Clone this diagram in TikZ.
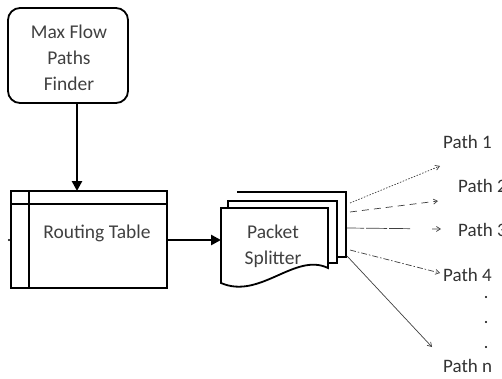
\documentclass[tikz,border=0pt]{standalone}
\usepackage{fontspec}
\setmainfont{Carlito}
\usetikzlibrary{arrows.meta}
\tikzset{
  boxline/.style={line width=1.8pt, draw=black},
  bigarrow/.style={line width=2.8pt, -{Triangle[length=10pt,width=10pt]}},
  pathline/.style={line width=0.7pt, draw=black!75, -{Straight Barb[length=4pt,width=5pt]}},
  lbl/.style={font=\fontsize{19.5}{26}\selectfont, text=black!75},
  plbl/.style={font=\fontsize{19}{20}\selectfont, anchor=west, inner sep=0pt, text=black!80},
}
\begin{document}
\begin{tikzpicture}[x=1pt,y=-1pt]
\useasboundingbox (0,0) rectangle (502,378);
\clip (0,0) rectangle (502,378);
% Max flow box
\draw[boxline, rounded corners=12pt] (8,8) rectangle (128,103);
\node[lbl, align=center] (mf) at (69,58) {Max Flow\\Paths\\Finder};
\coordinate (mfb) at (77,103);
% Routing table
\draw[boxline] (11,191) rectangle (167,288);
\draw[line width=1.3pt] (11,204) -- (167,204);
\draw[line width=1.3pt] (29,191) -- (29,288);
\fill (9,240) circle (1.2pt);
\node[lbl] (rt) at (97,233) {Routing Table};
\coordinate (rtt) at (77,191);
\coordinate (rtr) at (167,240);
% Packet splitter (multi-document)
\draw[boxline, fill=white] (237,192) -- (346,192) -- (346,257) -- (337,257);
\draw[boxline, fill=white] (228,210) -- (228,201) -- (337,201) -- (337,263) -- (328,263);
\draw[boxline, fill=white] (221,208) -- (328,208) -- (328,268)
   .. controls (295,252) and (260,300) .. (221,283) -- cycle;
\node[lbl, align=center] (ps) at (273,246) {Packet\\Splitter};
\coordinate (psl) at (221,240);
% arrows
\draw[bigarrow] (mfb) -- (rtt);
\draw[bigarrow] (rtr) -- (psl);
% path lines
\coordinate (s1) at (350,203);
\coordinate (s2) at (350,212);
\coordinate (s3) at (347,228);
\coordinate (s4) at (350,250);
\coordinate (s5) at (347,256);
\coordinate (e1) at (440,166);
\coordinate (e2) at (438,201);
\coordinate (e3) at (441,229);
\coordinate (e4) at (440,273);
\coordinate (e5) at (432,347);
\draw[pathline, dash pattern=on 1.5pt off 1.5pt] (s1) -- (e1);
\draw[pathline, dash pattern=on 7pt off 5pt] (s2) -- (e2);
\draw[pathline, dash pattern=on 17pt off 2pt on 21pt off 2pt on 21pt off 22pt] (s3) -- (e3);
\draw[pathline, dash pattern=on 6pt off 2pt on 1.5pt off 2pt] (s4) -- (e4);
\draw[pathline] (s5) -- (e5);
% labels
\node[plbl] (p1) at (443,142) {Path 1};
\node[plbl] (p2) at (458,186) {Path 2};
\node[plbl] (p3) at (458,230) {Path 3};
\node[plbl] (p4) at (443,275) {Path 4};
\node[plbl] (pn) at (443,366) {Path n};
\fill (486,297) circle (1.1pt);
\fill (486,322) circle (1.1pt);
\fill (486,347) circle (1.1pt);
\end{tikzpicture}
\end{document}
